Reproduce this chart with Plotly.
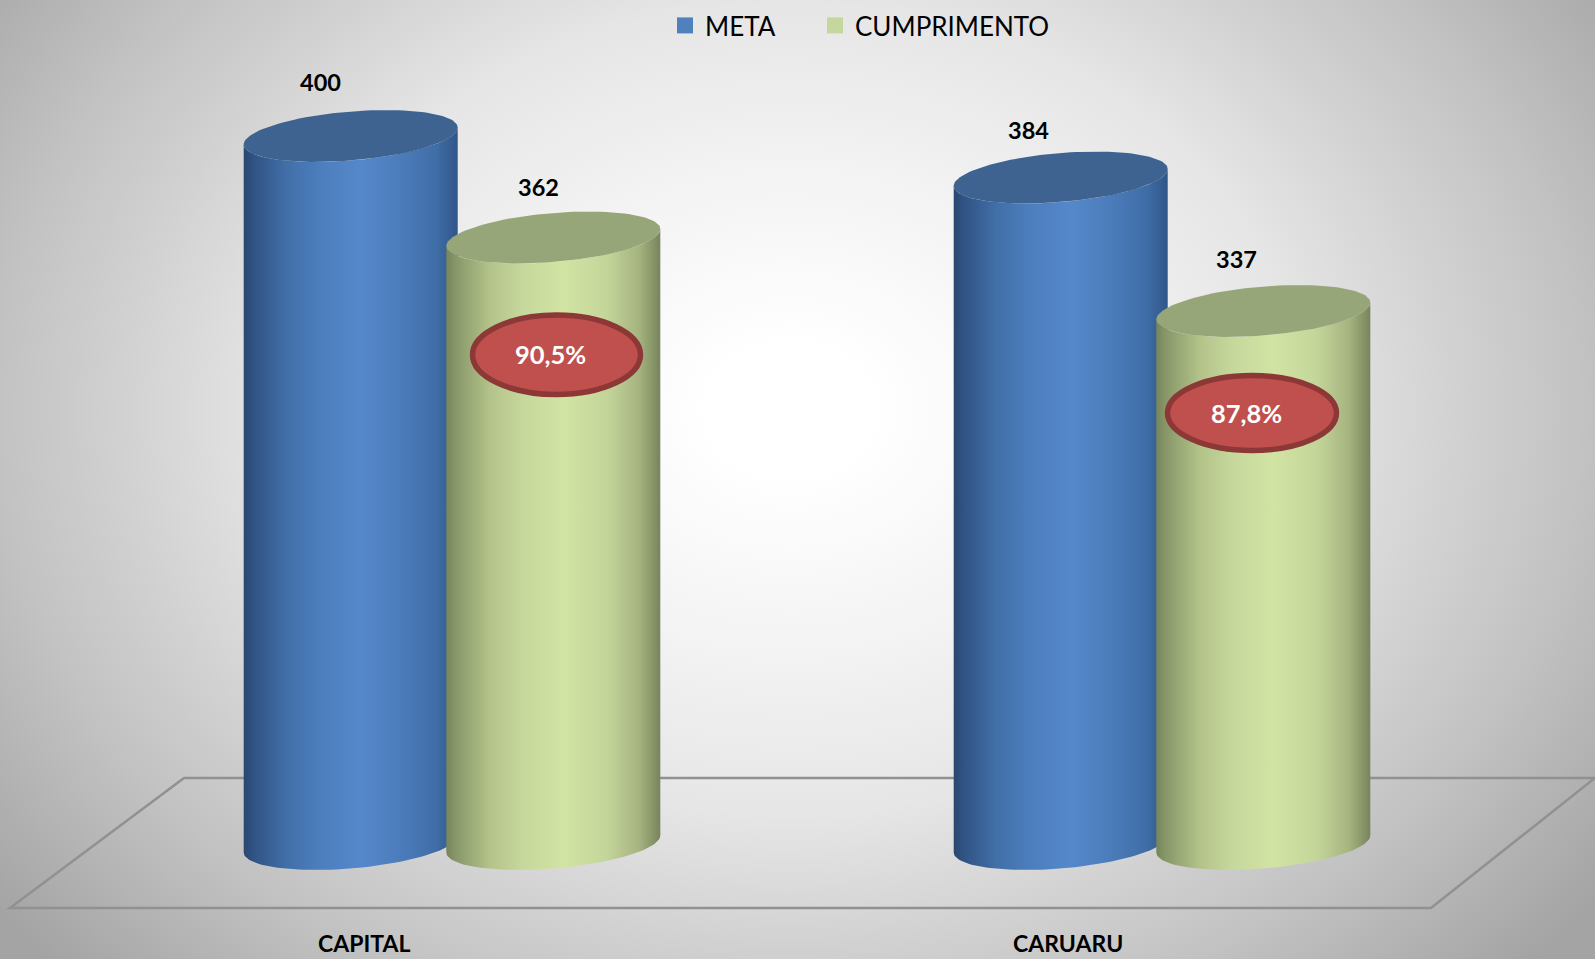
import base64
import numpy as np
import plotly.graph_objects as go

# ---- data ----
categories = ["CAPITAL", "CARUARU"]
meta = [400, 384]
cumprimento = [362, 337]
percent_labels = ["90,5%", "87,8%"]

W, H = 1595, 959
FONT = "Lato"

# geometry of the drawing (pixels)
CAT_PX = [452, 1162]          # centre of each category group
BAR_OFF = 101.3               # offset of each cylinder from group centre
R = 107                       # cylinder half width
TILT = 8.5                    # vertical tilt of an ellipse between its left and right extreme
MINOR = 24.5                  # ellipse half height
BASE_PX = 844                 # centre of the bottom ellipse
UNIT = CAT_PX[1] - CAT_PX[0]
XR = [-CAT_PX[0] / UNIT, (W - CAT_PX[0]) / UNIT]

# each series has its own perspective scale (pixels per unit) anchored at a known pixel position
BLUE_SCALE, BLUE_ANCHOR = 2.594, (400, 136)
GREEN_SCALE, GREEN_ANCHOR = 2.94, (362, 237.5)


def y_range(scale, anchor):
    v, p = anchor
    return [v - (H - p) / scale, v + p / scale]


def cylinder(cat_i, side, value, scale, anchor):
    v0, p0 = anchor
    base = v0 - (BASE_PX - p0) / scale
    cx = cat_i + side * BAR_OFF / UNIT
    rx = R / UNIT
    t = np.linspace(0, np.pi, 60)
    xb = cx + rx * np.cos(t)
    dy = (MINOR * np.sin(t) - TILT * np.cos(t)) / scale
    # front edge of the bottom ellipse, then the front edge of the top (hidden by the cap)
    body_x = list(xb) + list(xb[::-1])
    body_y = list(base - dy) + list(value - dy[::-1])
    tt = np.linspace(0, 2 * np.pi, 120)
    ex = cx + rx * np.cos(tt)
    ey = value - (MINOR * np.sin(tt) - TILT * np.cos(tt)) / scale
    return body_x, body_y, list(ex), list(ey)


BLUE_STOPS = [[0, "#294770"], [0.04, "#2f5282"], [0.2, "#416fa8"], [0.35, "#4c7ebd"],
              [0.55, "#5588cb"], [0.75, "#4a7bb9"], [0.9, "#3f6da6"], [1, "#30568a"]]
GREEN_STOPS = [[0, "#76855a"], [0.04, "#879668"], [0.2, "#b2c289"], [0.35, "#c6d79c"],
               [0.55, "#d2e4a3"], [0.75, "#c4d59a"], [0.9, "#a6b480"], [1, "#77845c"]]
BLUE_CAP = "#3e6390"
GREEN_CAP = "#96a678"

fig = go.Figure()

for i in range(len(categories)):
    for side, values, stops, cap, name, scale, anchor, ya in [
        (-1, meta, BLUE_STOPS, BLUE_CAP, "META", BLUE_SCALE, BLUE_ANCHOR, "y"),
        (1, cumprimento, GREEN_STOPS, GREEN_CAP, "CUMPRIMENTO", GREEN_SCALE, GREEN_ANCHOR, "y2"),
    ]:
        bx, by, ex, ey = cylinder(i, side, values[i], scale, anchor)
        fig.add_trace(go.Scatter(
            x=bx, y=by, yaxis=ya, mode="lines", line=dict(width=0), fill="toself",
            fillgradient=dict(type="horizontal", colorscale=stops),
            showlegend=False, hoverinfo="skip", name=name))
        fig.add_trace(go.Scatter(
            x=ex, y=ey, yaxis=ya, mode="lines", line=dict(width=0), fill="toself",
            fillcolor=cap, showlegend=False, hoverinfo="skip", name=name))

# legend entries
fig.add_trace(go.Scatter(x=[None], y=[None], mode="markers", name="META", legend="legend",
                         marker=dict(symbol="square", size=18, color="#4f81bd")))
fig.add_trace(go.Scatter(x=[None], y=[None], mode="markers", name="CUMPRIMENTO", legend="legend2",
                         marker=dict(symbol="square", size=18, color="#c5d79c")))

# background
svg = f'''<svg xmlns="http://www.w3.org/2000/svg" width="{W}" height="{H}">
<defs><radialGradient id="g" gradientUnits="userSpaceOnUse" cx="0" cy="0" r="1010"
 gradientTransform="translate(790 410) scale(1 0.8)">
<stop offset="0" stop-color="#ffffff"/><stop offset="0.08" stop-color="#ffffff"/>
<stop offset="0.3" stop-color="#f3f3f3"/><stop offset="0.5" stop-color="#e6e6e6"/>
<stop offset="0.68" stop-color="#cfcfcf"/><stop offset="0.78" stop-color="#c3c3c3"/>
<stop offset="1" stop-color="#a4a4a4"/></radialGradient></defs>
<rect width="{W}" height="{H}" fill="url(#g)"/></svg>'''
bg = "data:image/svg+xml;base64," + base64.b64encode(svg.encode()).decode()


def px(x):
    return x / W


def py(y):
    return 1 - y / H


floor = [(10, 908), (184, 778), (1595, 778), (1431, 908)]
floor_path = "M " + " L ".join(f"{px(a):.5f},{py(b):.5f}" for a, b in floor) + " Z"

bubble_boxes = [(472.5, 640.5, 315, 394.5), (1167.5, 1336.5, 375.5, 450.5)]
bubble_text = [(550.5, 354), (1246, 413)]
shapes = [dict(type="path", path=floor_path, xref="paper", yref="paper", layer="below",
               line=dict(color="#919191", width=2.5), fillcolor="rgba(0,0,0,0)")]
for x0, x1, y0, y1 in bubble_boxes:
    shapes.append(dict(type="circle", xref="paper", yref="paper", x0=px(x0), x1=px(x1),
                       y0=py(y1), y1=py(y0), fillcolor="#c0504d",
                       line=dict(color="#8c3836", width=5.5), layer="above"))


def note(text, x, y, size, color):
    return dict(x=px(x), y=py(y), xref="paper", yref="paper", showarrow=False,
                xanchor="center", yanchor="middle", text=f"<b>{text}</b>",
                font=dict(family=FONT, size=size, color=color))


annotations = []
label_px = [[(320.5, 82.5), (538, 186.5)], [(1028, 129.5), (1236, 259)]]
for i in range(2):
    for text, pos in zip((meta[i], cumprimento[i]), label_px[i]):
        annotations.append(note(text, pos[0], pos[1], 23.5, "#000000"))
    annotations.append(note(percent_labels[i], bubble_text[i][0], bubble_text[i][1], 25.5, "#ffffff"))
for name, x in zip(categories, [364, 1068]):
    annotations.append(note(name, x, 943, 23, "#000000"))

legend_common = dict(orientation="h", yanchor="top", xanchor="left", bgcolor="rgba(0,0,0,0)",
                     font=dict(family=FONT, size=26, color="#000000"),
                     itemclick=False, itemdoubleclick=False)
fig.update_layout(
    width=W, height=H, margin=dict(l=0, r=0, t=0, b=0),
    paper_bgcolor="#ffffff", plot_bgcolor="rgba(0,0,0,0)",
    xaxis=dict(range=XR, visible=False, fixedrange=True),
    yaxis=dict(range=y_range(BLUE_SCALE, BLUE_ANCHOR), visible=False, fixedrange=True),
    yaxis2=dict(range=y_range(GREEN_SCALE, GREEN_ANCHOR), visible=False, fixedrange=True,
                overlaying="y", side="right"),
    images=[dict(source=bg, xref="paper", yref="paper", x=0, y=1, sizex=1, sizey=1,
                 sizing="stretch", layer="below", xanchor="left", yanchor="top")],
    shapes=shapes, annotations=annotations,
    legend=dict(x=px(665), y=py(2), **legend_common),
    legend2=dict(x=px(815), y=py(2), **legend_common),
    showlegend=True,
)

fig.write_html("out.html", config={"displayModeBar": False},
               post_script="document.body.style.margin='0';document.documentElement.style.overflow='hidden';")
